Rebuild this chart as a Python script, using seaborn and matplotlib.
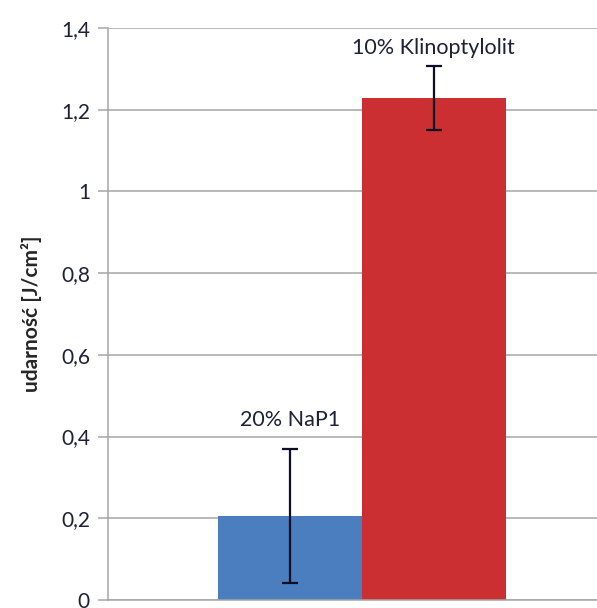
import matplotlib
matplotlib.use("Agg")
import matplotlib.pyplot as plt
import pandas as pd
import seaborn as sns
from matplotlib.ticker import FuncFormatter

series = ["20% NaP1", "10% Klinoptylolit"]
values = [0.206, 1.229]
errors = [0.164, 0.078]
colors = ["#4A7EBF", "#CC2F31"]
y_ticks = [0, 0.2, 0.4, 0.6, 0.8, 1.0, 1.2, 1.4]

sns.set_style("white")
plt.rcParams["font.family"] = ["Lato", "DejaVu Sans"]

df = pd.DataFrame({"group": ["A", "A"], "series": series, "value": values})

fig = plt.figure(figsize=(5.97, 6.08), dpi=100)
ax = fig.add_axes([108 / 597, 8 / 608, 508 / 597, 572 / 608])

sns.barplot(data=df, x="group", y="value", hue="series", hue_order=series,
            palette=colors, width=0.565, errorbar=None, legend=False,
            saturation=1, linewidth=0, ax=ax)

centers = [p.get_x() + p.get_width() / 2 for p in ax.patches[:2]]
ax.errorbar(centers, values, yerr=errors, fmt="none", ecolor="#0d0d26",
            elinewidth=1.6, capsize=6, capthick=1.6, zorder=3)

for x, v, e, name, off in zip(centers, values, errors, series, [0.07, 0.045]):
    ax.text(x, v + e + off, name, ha="center", va="center",
            fontsize=15.5, color="#1f1f3a")

ax.set_xlim(-0.5, 0.5)
ax.set_ylim(0, 1.4)
ax.set_yticks(y_ticks)
ax.yaxis.set_major_formatter(FuncFormatter(lambda v, _: f"{v:g}".replace(".", ",")))
ax.set_xticks([])
ax.set_xlabel("")
ax.set_ylabel("udarność [J/cm²]", fontsize=15, fontweight="bold", labelpad=14)
ax.yaxis.grid(True, color="#a6a6a6", linewidth=1.1)
ax.set_axisbelow(True)
for side in ["top", "right"]:
    ax.spines[side].set_visible(False)
for side in ["left", "bottom"]:
    ax.spines[side].set_color("#a6a6a6")
    ax.spines[side].set_linewidth(1.1)
ax.tick_params(axis="y", left=True, length=7, width=1.1, color="#a6a6a6",
               labelsize=15, labelcolor="#1f1f3a", pad=6)

fig.savefig("out.png", dpi=100)
